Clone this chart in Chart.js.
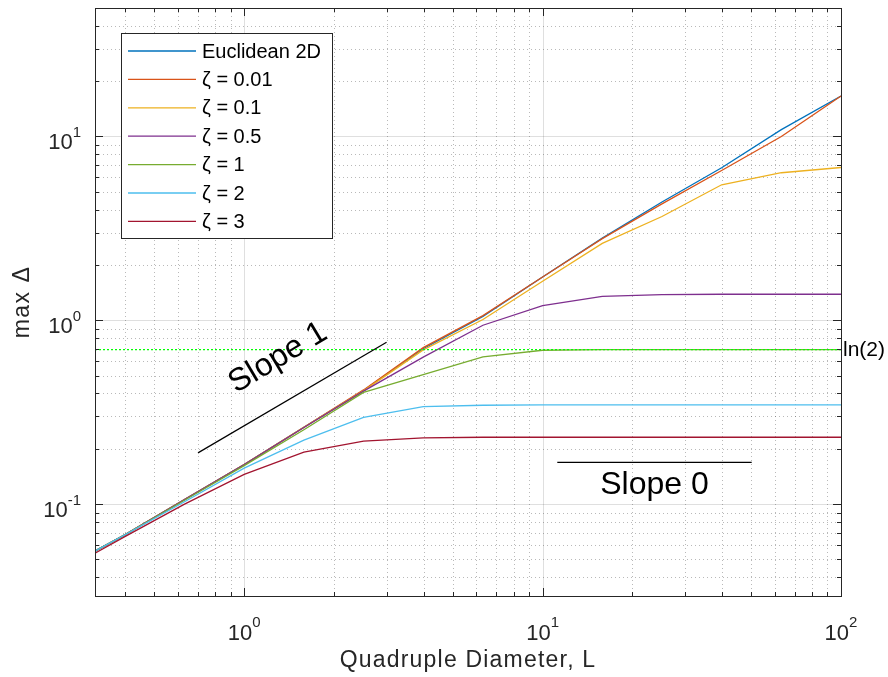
<!DOCTYPE html>
<html>
<head>
<meta charset="utf-8">
<script src="https://cdn.jsdelivr.net/npm/chart.js@4/dist/chart.umd.min.js"></script>
<style>
html, body { margin: 0; padding: 0; background: #fff; }
</style>
</head>
<body>
<canvas id="chart" width="888" height="677"></canvas>
<script>
// 四重直径 L（横軸）
const diameters = [0.3162, 0.3981, 0.631, 1, 1.585, 2.512, 3.981, 6.31, 10, 15.85, 25.12, 39.81, 63.1, 100];

// 各系列の max Δ
const euclid2D = [0.0555, 0.068, 0.106, 0.164, 0.262, 0.415, 0.70, 1.05, 1.72, 2.80, 4.40, 6.76, 10.9, 16.6];
const zeta001  = [0.0555, 0.068, 0.106, 0.164, 0.262, 0.418, 0.71, 1.06, 1.72, 2.78, 4.30, 6.53, 10.0, 16.6];
const zeta01   = [0.0555, 0.068, 0.106, 0.164, 0.262, 0.413, 0.69, 1.01, 1.63, 2.62, 3.67, 5.46, 6.35, 6.78];
const zeta05   = [0.0555, 0.068, 0.106, 0.164, 0.261, 0.412, 0.63, 0.94, 1.20, 1.35, 1.38, 1.386, 1.386, 1.386];
const zeta1    = [0.0555, 0.068, 0.105, 0.162, 0.254, 0.405, 0.507, 0.632, 0.687, 0.693, 0.693, 0.693, 0.693, 0.693];
const zeta2    = [0.0555, 0.068, 0.103, 0.157, 0.223, 0.296, 0.339, 0.345, 0.3466, 0.3466, 0.3466, 0.3466, 0.3466, 0.3466];
const zeta3    = [0.054, 0.0665, 0.100, 0.145, 0.192, 0.220, 0.229, 0.231, 0.231, 0.231, 0.231, 0.231, 0.231, 0.231];

const seriesLabels = ['Euclidean 2D', 'ζ = 0.01', 'ζ = 0.1', 'ζ = 0.5', 'ζ = 1', 'ζ = 2', 'ζ = 3'];
const seriesValues = [euclid2D, zeta001, zeta01, zeta05, zeta1, zeta2, zeta3];
const seriesColors = ['#0072BD', '#D95319', '#EDB120', '#7E2F8E', '#77AC30', '#4DBEEE', '#A2142F'];

// 補助線
const ln2Level = Math.LN2;
const slope1X = [0.7, 3.0];
const slope1Y = [0.19, 0.76];
const slope0X = [11.2, 50.2];
const slope0Y = [0.1685, 0.1685];

// 軸範囲と目盛
const xMin = Math.pow(10, -0.5), xMax = 100;
const yMin = Math.pow(10, -1.5), yMax = 50;
const xTickValues = [1, 10, 100];
const xTickExp = ['0', '1', '2'];
const yTickValues = [0.1, 1, 10];
const yTickExp = ['-1', '0', '1'];

const FONT = '"Liberation Sans", Arial, Helvetica, sans-serif';
const AXIS = '#262626';

function logTicks(min, max) {
    const out = [];
    for (let e = Math.floor(Math.log10(min)); e <= Math.ceil(Math.log10(max)); e++) {
        for (let m = 1; m < 10; m++) {
            const v = m * Math.pow(10, e);
            if (v > min * 1.0001 && v < max / 1.0001) out.push({ v: v, major: m === 1 });
        }
    }
    return out;
}

function pts(xs, ys) {
    return xs.map((x, i) => ({ x: x, y: ys[i] }));
}

const datasets = seriesValues.map((vals, i) => ({
    label: seriesLabels[i],
    data: pts(diameters, vals),
    borderColor: seriesColors[i],
    borderWidth: 1.3,
    pointRadius: 0,
    tension: 0,
    fill: false,
    order: 20 - i // 後の系列を上に描く
}));
datasets.push({
    label: 'ln(2)',
    data: pts([xMin, xMax], [ln2Level, ln2Level]),
    borderColor: '#00FF00',
    borderWidth: 1.2,
    borderDash: [2, 2],
    pointRadius: 0,
    order: 1
});
datasets.push({
    label: 'slope1',
    data: pts(slope1X, slope1Y),
    borderColor: '#000000',
    borderWidth: 1.2,
    pointRadius: 0,
    order: 0
});
datasets.push({
    label: 'slope0',
    data: pts(slope0X, slope0Y),
    borderColor: '#000000',
    borderWidth: 1.2,
    pointRadius: 0,
    order: 0
});

const matlabAxes = {
    id: 'matlabAxes',
    beforeDatasetsDraw(chart) {
        const { ctx, chartArea: a, scales: { x, y } } = chart;
        ctx.save();
        ctx.lineWidth = 1;
        // 副グリッド（点線）
        ctx.setLineDash([1, 3]);
        ctx.strokeStyle = 'rgba(38,38,38,0.32)';
        logTicks(xMin, xMax).filter(t => !t.major).forEach(t => {
            const px = Math.round(x.getPixelForValue(t.v)) + 0.5;
            ctx.beginPath(); ctx.moveTo(px, a.top); ctx.lineTo(px, a.bottom); ctx.stroke();
        });
        logTicks(yMin, yMax).filter(t => !t.major).forEach(t => {
            const py = Math.round(y.getPixelForValue(t.v)) + 0.5;
            ctx.beginPath(); ctx.moveTo(a.left, py); ctx.lineTo(a.right, py); ctx.stroke();
        });
        // 主グリッド
        ctx.setLineDash([]);
        ctx.strokeStyle = 'rgba(38,38,38,0.15)';
        logTicks(xMin, xMax).filter(t => t.major).forEach(t => {
            const px = Math.round(x.getPixelForValue(t.v)) + 0.5;
            ctx.beginPath(); ctx.moveTo(px, a.top); ctx.lineTo(px, a.bottom); ctx.stroke();
        });
        logTicks(yMin, yMax).filter(t => t.major).forEach(t => {
            const py = Math.round(y.getPixelForValue(t.v)) + 0.5;
            ctx.beginPath(); ctx.moveTo(a.left, py); ctx.lineTo(a.right, py); ctx.stroke();
        });
        ctx.restore();
    },
    afterDatasetsDraw(chart) {
        const { ctx, chartArea: a, scales: { x, y } } = chart;
        ctx.save();
        // 枠と内向きの目盛
        ctx.strokeStyle = AXIS;
        ctx.lineWidth = 1;
        ctx.strokeRect(Math.round(a.left) + 0.5, Math.round(a.top) + 0.5,
            Math.round(a.right - a.left), Math.round(a.bottom - a.top));
        logTicks(xMin, xMax).forEach(t => {
            const px = Math.round(x.getPixelForValue(t.v)) + 0.5;
            const len = t.major ? 8 : 4;
            ctx.beginPath();
            ctx.moveTo(px, a.bottom); ctx.lineTo(px, a.bottom - len);
            ctx.moveTo(px, a.top); ctx.lineTo(px, a.top + len);
            ctx.stroke();
        });
        logTicks(yMin, yMax).forEach(t => {
            const py = Math.round(y.getPixelForValue(t.v)) + 0.5;
            const len = t.major ? 8 : 4;
            ctx.beginPath();
            ctx.moveTo(a.left, py); ctx.lineTo(a.left + len, py);
            ctx.moveTo(a.right, py); ctx.lineTo(a.right - len, py);
            ctx.stroke();
        });

        // 凡例
        const lx = 121.5, ly = 33.5, lw = 211, lh = 205;
        ctx.fillStyle = '#fff';
        ctx.fillRect(lx, ly, lw, lh);
        ctx.strokeStyle = AXIS;
        ctx.strokeRect(lx, ly, lw, lh);
        ctx.font = '20px ' + FONT;
        ctx.textBaseline = 'middle';
        ctx.textAlign = 'left';
        seriesLabels.forEach((lab, i) => {
            const ry = 51 + i * 28.4;
            ctx.strokeStyle = seriesColors[i];
            ctx.lineWidth = 1.3;
            ctx.beginPath(); ctx.moveTo(128, ry); ctx.lineTo(196, ry); ctx.stroke();
            ctx.fillStyle = '#000';
            ctx.fillText(lab, 202, ry + 1);
        });
        ctx.restore();
    },
    afterDraw(chart) {
        const { ctx, chartArea: a, scales: { x, y } } = chart;
        ctx.save();
        ctx.fillStyle = AXIS;
        ctx.textBaseline = 'alphabetic';
        // x 目盛ラベル
        xTickValues.forEach((v, i) => {
            const px = x.getPixelForValue(v);
            ctx.font = '22px ' + FONT;
            const wb = ctx.measureText('10').width;
            ctx.font = '15px ' + FONT;
            const we = ctx.measureText(xTickExp[i]).width;
            const left = px - (wb + we) / 2;
            ctx.font = '22px ' + FONT;
            ctx.textAlign = 'left';
            ctx.fillText('10', left, 640);
            ctx.font = '15px ' + FONT;
            ctx.fillText(xTickExp[i], left + wb, 627);
        });
        // y 目盛ラベル
        yTickValues.forEach((v, i) => {
            const py = y.getPixelForValue(v);
            ctx.font = '15px ' + FONT;
            const we = ctx.measureText(yTickExp[i]).width;
            ctx.textAlign = 'right';
            ctx.fillText(yTickExp[i], 81, py + 1);
            ctx.font = '22px ' + FONT;
            ctx.fillText('10', 81 - we, py + 13);
        });
        // 軸ラベル
        ctx.font = '23px ' + FONT;
        ctx.textAlign = 'center';
        ctx.textBaseline = 'middle';
        ctx.letterSpacing = '1.2px';
        ctx.fillText('Quadruple Diameter, L', (a.left + a.right) / 2, 661);
        ctx.save();
        ctx.translate(23, (a.top + a.bottom) / 2);
        ctx.rotate(-Math.PI / 2);
        ctx.letterSpacing = '1.5px';
        ctx.fillText('max Δ', 0, 0);
        ctx.restore();
        ctx.letterSpacing = '0px';

        // 注釈
        ctx.fillStyle = '#000';
        ctx.font = '21px ' + FONT;
        ctx.textAlign = 'left';
        ctx.fillText('ln(2)', a.right + 2, y.getPixelForValue(ln2Level) + 1);

        ctx.font = '32px ' + FONT;
        ctx.textAlign = 'center';
        ctx.textBaseline = 'alphabetic';
        ctx.fillText('Slope 0', x.getPixelForValue(Math.sqrt(slope0X[0] * slope0X[1])), 494);
        ctx.save();
        ctx.translate(278, 358);
        ctx.rotate(-31 * Math.PI / 180);
        ctx.textBaseline = 'middle';
        ctx.fillText('Slope 1', 0, 0);
        ctx.restore();
        ctx.restore();
    }
};

// 目盛の丸めで範囲が広がらないよう固定
function keepRange(min, max) {
    return s => { s.min = min; s.max = max; };
}

new Chart(document.getElementById('chart'), {
    type: 'line',
    data: { datasets: datasets },
    options: {
        responsive: false,
        animation: false,
        devicePixelRatio: 1,
        layout: { padding: { left: 0, right: 47, top: 8, bottom: 0 } },
        plugins: { legend: { display: false }, tooltip: { enabled: false } },
        scales: {
            x: {
                type: 'logarithmic', min: xMin, max: xMax, bounds: 'data',
                ticks: { display: false }, grid: { display: false }, border: { display: false },
                afterBuildTicks: keepRange(xMin, xMax),
                afterFit: s => { s.height = 81; }
            },
            y: {
                type: 'logarithmic', min: yMin, max: yMax, bounds: 'data',
                ticks: { display: false }, grid: { display: false }, border: { display: false },
                afterBuildTicks: keepRange(yMin, yMax),
                afterFit: s => { s.width = 95; }
            }
        }
    },
    plugins: [matlabAxes]
});
</script>
</body>
</html>
